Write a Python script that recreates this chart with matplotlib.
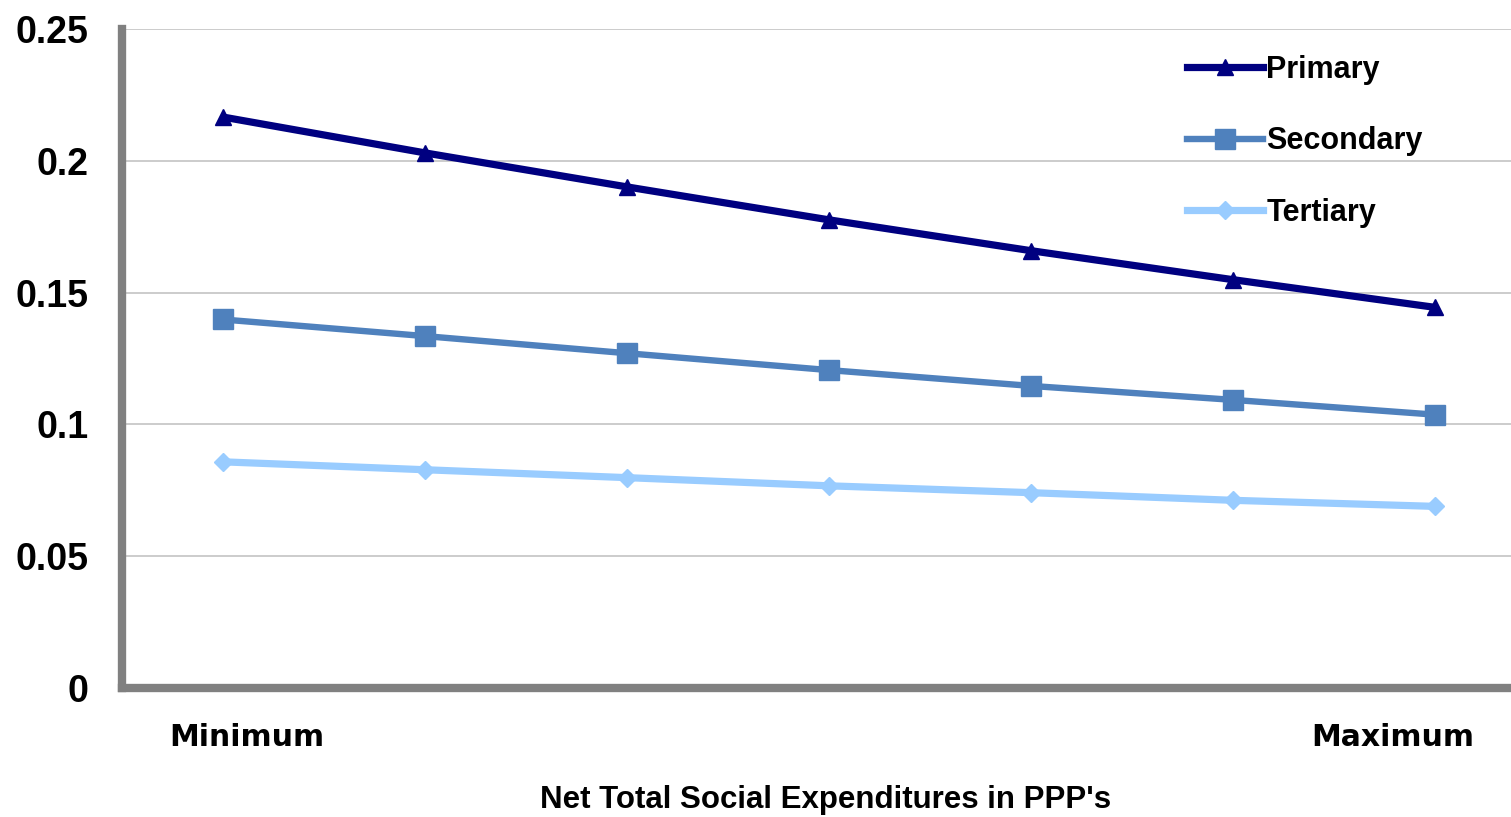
import matplotlib
matplotlib.use("Agg")
import matplotlib.pyplot as plt
from matplotlib.lines import Line2D

# Expenditure steps from minimum to maximum
steps = [0, 1, 2, 3, 4, 5, 6]

primary = [0.2166, 0.2030, 0.1901, 0.1776, 0.1659, 0.1549, 0.1444]
secondary = [0.1398, 0.1335, 0.1270, 0.1206, 0.1146, 0.1093, 0.1037]
tertiary = [0.0858, 0.0828, 0.0798, 0.0767, 0.0741, 0.0712, 0.0689]

series_names = ["Primary", "Secondary", "Tertiary"]
y_ticks = [0, 0.05, 0.1, 0.15, 0.2, 0.25]
y_tick_labels = ["0", "0.05", "0.1", "0.15", "0.2", "0.25"]
x_end_labels = ["Minimum", "Maximum"]
x_title = "Net Total Social Expenditures in PPP's"

C_PRIMARY = "#000080"
C_SECONDARY = "#4F81BD"
C_TERTIARY = "#99CCFF"
GRID = "#C8C8C8"
SPINE = "#808080"

plt.rcParams["font.family"] = ["Liberation Sans", "DejaVu Sans"]

W, H = 1511, 817
fig = plt.figure(figsize=(W / 100, H / 100), dpi=100)
ax = fig.add_axes([122 / W, (H - 688) / H, (W - 122) / W, (688 - 29) / H])

styles = [
    dict(color=C_PRIMARY, lw=5.2, marker="^", ms=12),
    dict(color=C_SECONDARY, lw=4.6, marker="s", ms=14),
    dict(color=C_TERTIARY, lw=5.2, marker="D", ms=9),
]
for vals, st, z in zip([primary, secondary, tertiary], styles, [4, 3, 2]):
    ax.plot(steps, vals, solid_capstyle="butt", clip_on=False, zorder=z, **st)

ax.set_xlim(-0.5, (W - 223) / 202)
ax.set_ylim(0, 0.25)

ax.set_yticks(y_ticks, y_tick_labels)
ax.set_xticks([0.12, 5.79], x_end_labels)
ax.tick_params(axis="y", length=0, pad=24, labelsize=27)
ax.tick_params(axis="x", length=0, pad=25.5, labelsize=21.5)
for t in ax.get_yticklabels():
    t.set_fontweight("bold")
for t in ax.get_xticklabels():
    t.set_family(["DejaVu Sans"])
    t.set_fontweight("bold")

ax.yaxis.grid(True, color=GRID, lw=1.3)
ax.set_axisbelow(True)

for side in ("top", "right"):
    ax.spines[side].set_visible(False)
for side in ("left", "bottom"):
    ax.spines[side].set_color(SPINE)
    ax.spines[side].set_linewidth(6)
    ax.spines[side].set_zorder(5)

fig.text(826 / W, 1 - 808 / H, x_title, ha="center", va="baseline",
         fontsize=22.5, fontweight="bold")

handles = [Line2D([], [], **st) for st in styles]
fig.legend(handles, series_names, loc="upper left",
           bbox_to_anchor=(1187 / W, 1 - 55 / H), frameon=False,
           prop={"size": 22, "weight": "bold"}, handlelength=2.5,
           handletextpad=0.1, labelspacing=1.35, borderpad=0,
           borderaxespad=0)

fig.savefig("out.png", dpi=100)
